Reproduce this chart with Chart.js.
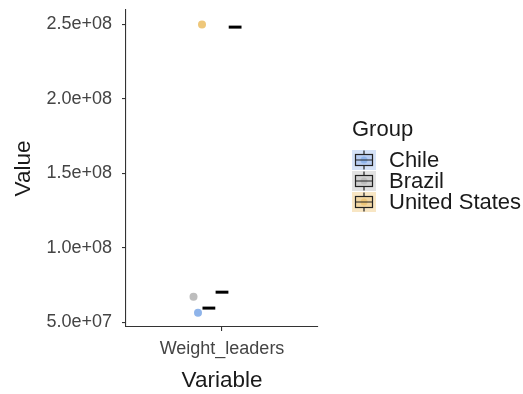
<!DOCTYPE html>
<html><head><meta charset="utf-8">
<script src="https://cdn.jsdelivr.net/npm/chart.js@4/dist/chart.umd.min.js"></script>
<style>
html,body{margin:0;padding:0;background:#fff;}
#wrap{position:relative;width:523px;height:394px;overflow:hidden;}
#c{position:absolute;left:0;top:0;}
.lg{position:absolute;font-family:"Liberation Sans",Arial,sans-serif;font-size:22px;line-height:22px;color:#1a1a1a;white-space:nowrap;}
.ic{position:absolute;}
</style></head>
<body>
<div id="wrap"><canvas id="c" width="523" height="394"></canvas><div id="legend"></div></div>
<script>
// ---- data ----
const categories = ["Weight_leaders"];
const groups = ["Chile", "Brazil", "United States"];
const pointValues = [5.62e7, 6.71e7, 2.50e8];      // jittered points
const pointJitter = [-0.15, -0.178, -0.125];        // horizontal jitter (category units)
const dashValues = [5.94e7, 7.01e7, 2.482e8];       // collapsed boxplots (dodged)
const yTicks = [5e7, 1e8, 1.5e8, 2e8, 2.5e8];
const yTickLabels = ["5.0e+07", "1.0e+08", "1.5e+08", "2.0e+08", "2.5e+08"];
// ---- styles ----
const pointColors = ["#8fb4ea", "#bdbdbd", "#eec77a"];
const keyBg = ["#d5e2f7", "#e2e2e2", "#f8e6c4"];
const keyFill = ["#b7cdf2", "#d0d0d0", "#f3d7a2"];
const dodgeStep = 0.082, dashHalf = 0.04;
const FONT = '"Liberation Sans", Arial, sans-serif';

const datasets = [];
groups.forEach((g, i) => {
  datasets.push({
    type: 'scatter', label: g,
    data: [{x: 1 + pointJitter[i], y: pointValues[i]}],
    pointRadius: 4, pointHoverRadius: 4, borderWidth: 0,
    backgroundColor: pointColors[i], borderColor: pointColors[i]
  });
});
groups.forEach((g, i) => {
  const cx = 1 + (i - 1) * dodgeStep;
  datasets.push({
    type: 'line', label: g + ' box',
    data: [{x: cx - dashHalf, y: dashValues[i]}, {x: cx + dashHalf, y: dashValues[i]}],
    borderColor: '#000', borderWidth: 3, pointRadius: 0, borderCapStyle: 'butt', fill: false
  });
});

new Chart(document.getElementById('c'), {
  type: 'scatter',
  data: {datasets},
  options: {
    responsive: false, animation: false, devicePixelRatio: 1,
    layout: {padding: {left: 0, right: 205, top: 10, bottom: 0}},
    plugins: {legend: {display: false}, tooltip: {enabled: false}},
    scales: {
      x: {
        type: 'linear', min: 0.4, max: 1.6,
        afterBuildTicks: s => { s.ticks = categories.map((c, i) => ({value: i + 1})); },
        afterFit: s => { s.height = 67; },
        ticks: {callback: (v, i) => categories[i], color: '#444', padding: 7, maxRotation: 0,
                font: {family: FONT, size: 18}},
        grid: {drawOnChartArea: false, tickLength: 4, color: '#333', lineWidth: 1.1},
        border: {color: '#333', width: 1.1},
        title: {display: true, text: 'Variable', color: '#1a1a1a', font: {family: FONT, size: 22.5}, padding: {top: 0, bottom: 0}}
      },
      y: {
        type: 'linear', min: 4.67e7, max: 2.597e8,
        afterBuildTicks: s => { s.ticks = yTicks.map(v => ({value: v})); },
        afterFit: s => { s.width = 126; s.paddingTop = 0; s.paddingBottom = 0; },
        ticks: {callback: (v, i) => yTickLabels[i], color: '#444', padding: 10,
                font: {family: FONT, size: 18}},
        grid: {drawOnChartArea: false, tickLength: 4, color: '#333', lineWidth: 1.1},
        border: {color: '#333', width: 1.1},
        title: {display: true, text: 'Value', color: '#1a1a1a', font: {family: FONT, size: 22.5}, padding: {top: 10, bottom: 0}}
      }
    }
  }
});

// ---- legend ----
const lg = document.getElementById('legend');
function addText(txt, left, baseline) {
  const d = document.createElement('div');
  d.className = 'lg'; d.textContent = txt;
  d.style.left = left + 'px'; d.style.top = (baseline - 18.6) + 'px';
  lg.appendChild(d);
}
addText('Group', 352, 136.7);
groups.forEach((g, i) => {
  const cy = 159.5 + i * 21;
  const cv = document.createElement('canvas');
  cv.width = 24; cv.height = 20; cv.className = 'ic';
  cv.style.left = '352px'; cv.style.top = (cy - 10) + 'px';
  const ctx = cv.getContext('2d');
  ctx.fillStyle = keyBg[i]; ctx.fillRect(0, 0, 24, 20);
  ctx.fillStyle = keyFill[i]; ctx.fillRect(3.5, 4.5, 17, 11);
  ctx.fillStyle = pointColors[i];
  ctx.beginPath(); ctx.arc(12, 10, 3.5, 0, Math.PI * 2); ctx.fill();
  ctx.strokeStyle = '#222'; ctx.lineWidth = 1.2;
  ctx.strokeRect(3.5, 4.5, 17, 11);
  ctx.beginPath();
  ctx.moveTo(3.5, 10); ctx.lineTo(20.5, 10);
  ctx.moveTo(12, 0.5); ctx.lineTo(12, 4.5);
  ctx.moveTo(12, 15.5); ctx.lineTo(12, 19.5);
  ctx.stroke();
  lg.appendChild(cv);
  addText(g, 389, cy + 7.8);
});
</script>
</body></html>
